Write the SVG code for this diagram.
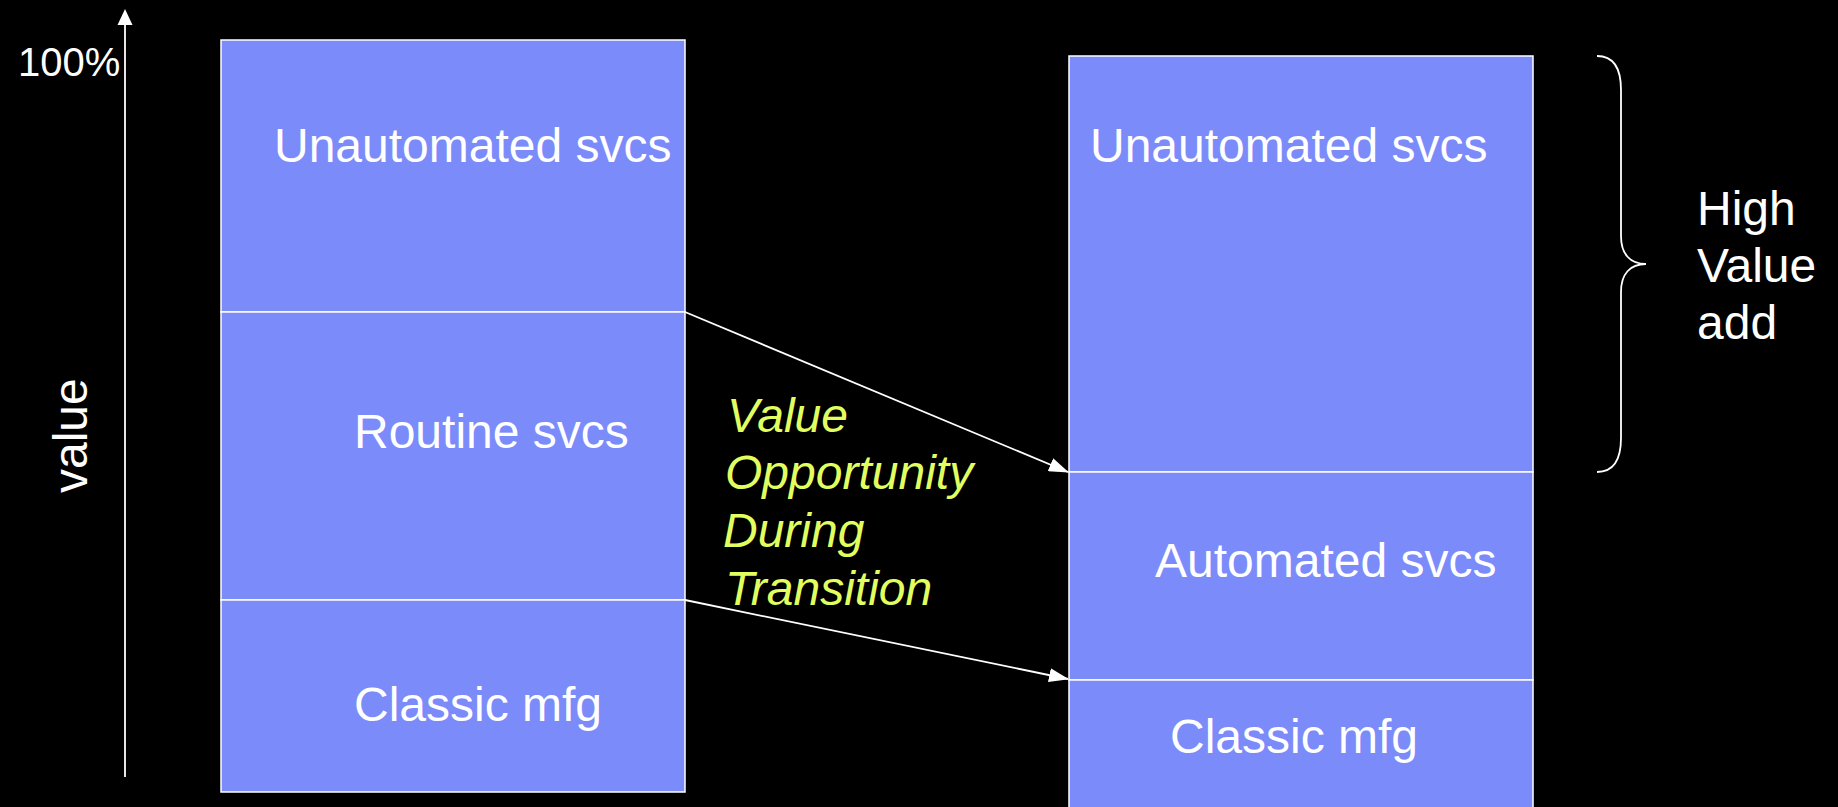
<svg xmlns="http://www.w3.org/2000/svg" width="1838" height="807" viewBox="0 0 1838 807">
  <style>
    .bar { fill: #7b8bfa; stroke: #ffffff; stroke-width: 1.5; }
    .lbl { font-family: "Liberation Sans", Arial, sans-serif; font-size: 48px; fill: #ffffff; }
    .note { font-family: "Liberation Sans", Arial, sans-serif; font-size: 48px; font-style: italic; fill: #e1ff5f; }
    .wire { stroke: #ffffff; stroke-width: 1.8; fill: none; }
  </style>
  <defs>
    <marker id="head" viewBox="0 0 20 14" refX="19" refY="7" markerWidth="20" markerHeight="14" markerUnits="userSpaceOnUse" orient="auto">
      <path d="M0,0 L20,7 L0,14 Z" fill="#ffffff"/>
    </marker>
  </defs>
  <rect width="1838" height="807" fill="#000000"/>

  <!-- value axis -->
  <g id="axis">
    <line x1="125" y1="777" x2="125" y2="22" stroke="#ffffff" stroke-width="1.8"/>
    <path d="M125,9 L132.5,25 L117.5,25 Z" fill="#ffffff"/>
    <text class="lbl" x="18" y="76" style="font-size:40px">100%</text>
    <text class="lbl" transform="translate(87,493) rotate(-90)">value</text>
  </g>

  <!-- left column: before -->
  <g id="left-unautomated">
    <rect class="bar" x="221" y="40" width="464" height="272"/>
    <text class="lbl" x="274" y="162">Unautomated svcs</text>
  </g>
  <g id="left-routine">
    <rect class="bar" x="221" y="312" width="464" height="288"/>
    <text class="lbl" x="354" y="448">Routine svcs</text>
  </g>
  <g id="left-classic">
    <rect class="bar" x="221" y="600" width="464" height="192"/>
    <text class="lbl" x="354" y="721">Classic mfg</text>
  </g>

  <!-- right column: after -->
  <g id="right-unautomated">
    <rect class="bar" x="1069" y="56" width="464" height="416"/>
    <text class="lbl" x="1090" y="162">Unautomated svcs</text>
  </g>
  <g id="right-automated">
    <rect class="bar" x="1069" y="472" width="464" height="208"/>
    <text class="lbl" x="1155" y="577">Automated svcs</text>
  </g>
  <g id="right-classic">
    <rect class="bar" x="1069" y="680" width="464" height="140"/>
    <text class="lbl" x="1170" y="753">Classic mfg</text>
  </g>

  <!-- transition label -->
  <g id="transition-note">
    <text class="note" x="727" y="432">Value</text>
    <text class="note" x="725" y="489">Opportunity</text>
    <text class="note" x="723" y="547">During</text>
    <text class="note" x="725" y="605">Transition</text>
  </g>

  <!-- high value brace -->
  <g id="high-value">
    <path class="wire" d="M1597,56 C1612,56 1621,66 1621,90 L1621,236 C1621,254 1630,264 1646,264 C1630,264 1621,274 1621,292 L1621,438 C1621,462 1612,472 1597,472"/>
    <text class="lbl" x="1697" y="225">High</text>
    <text class="lbl" x="1697" y="282">Value</text>
    <text class="lbl" x="1697" y="339">add</text>
  </g>

  <!-- connectors -->
  <g id="connectors">
    <line class="wire" x1="685" y1="312" x2="1068" y2="472" marker-end="url(#head)"/>
    <line class="wire" x1="685" y1="600" x2="1068" y2="679" marker-end="url(#head)"/>
  </g>
</svg>
